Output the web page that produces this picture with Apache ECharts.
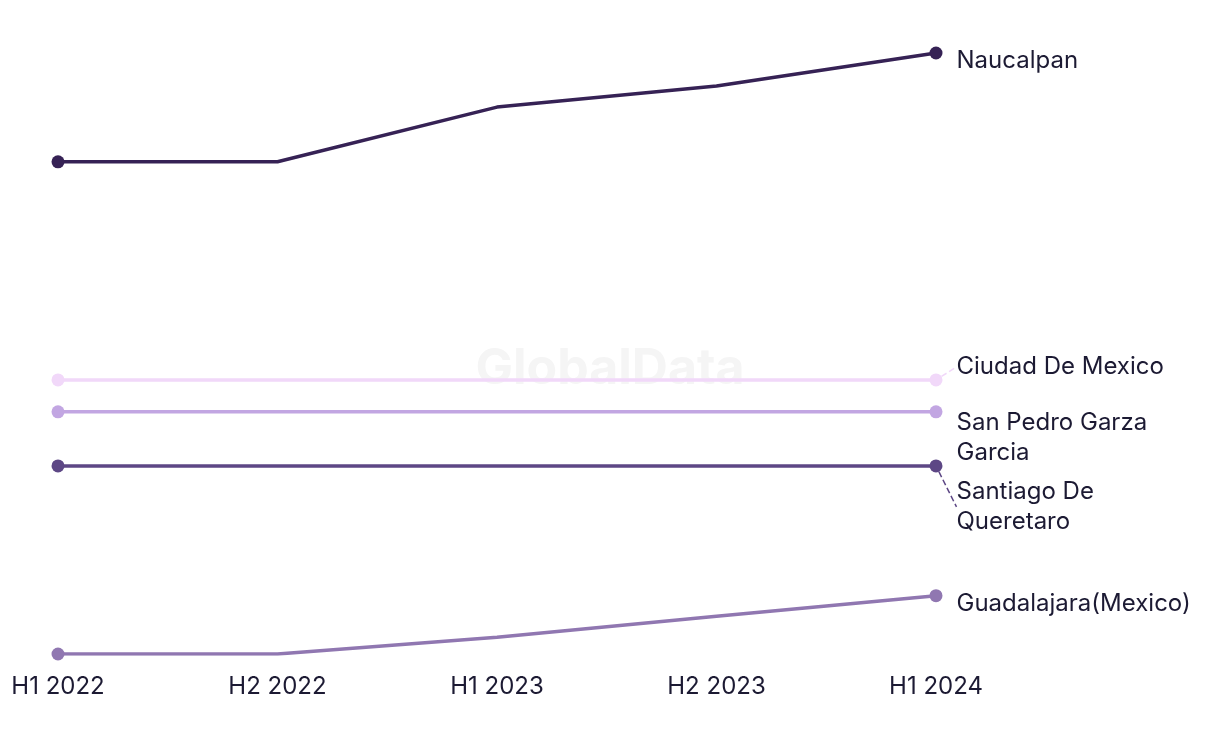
<!DOCTYPE html>
<html>
<head>
<meta charset="utf-8">
<script src="https://cdn.jsdelivr.net/npm/echarts@6/dist/echarts.min.js"></script>
<style>
  html, body { margin: 0; padding: 0; background: #fff; }
  #chart { width: 1220px; height: 744px; }
</style>
</head>
<body>
<div id="chart"></div>
<script>
// periods on the x axis
const periods = ['H1 2022', 'H2 2022', 'H1 2023', 'H2 2023', 'H1 2024'];

// values per city (no y axis shown)
const naucalpan = [81.9, 81.9, 91.0, 94.5, 100];
const ciudadDeMexico = [45.6, 45.6, 45.6, 45.6, 45.6];
const sanPedroGarzaGarcia = [40.3, 40.3, 40.3, 40.3, 40.3];
const santiagoDeQueretaro = [31.3, 31.3, 31.3, 31.3, 31.3];
const guadalajara = [0, 0, 2.8, 6.3, 9.7];

// label nudges (dy) keep the end labels from overlapping, like the original
const cities = [
  { name: 'Naucalpan', label: 'Naucalpan', data: naucalpan, color: '#362255', dy: 8, leader: false },
  { name: 'Ciudad De Mexico', label: 'Ciudad De Mexico', data: ciudadDeMexico, color: '#f1d8f9', dy: -13, leader: true },
  { name: 'San Pedro Garza Garcia', label: 'San Pedro Garza\nGarcia', data: sanPedroGarzaGarcia, color: '#c2a6e2', dy: 26, leader: false },
  { name: 'Santiago De Queretaro', label: 'Santiago De\nQueretaro', data: santiagoDeQueretaro, color: '#5d4785', dy: 41, leader: true },
  { name: 'Guadalajara(Mexico)', label: 'Guadalajara(Mexico)', data: guadalajara, color: '#9077b1', dy: 8, leader: false }
];

const textColor = '#1c1a33';
const fontFamily = 'Inter, "Noto Sans", sans-serif';

let chart = echarts.init(document.getElementById('chart'));

let series = cities.map(function (c) {
  let last = c.data.length - 1;
  return {
    name: c.name,
    type: 'line',
    data: c.data.map(function (v, i) {
      if (i === last) return { value: v, label: { show: true } };
      return { value: v, label: { show: false } };
    }),
    symbol: 'circle',
    symbolSize: function (val, params) {
      return (params.dataIndex === 0 || params.dataIndex === last) ? 13 : 0;
    },
    showAllSymbol: true,
    lineStyle: { width: 3.5, color: c.color },
    itemStyle: { color: c.color },
    label: {
      show: false,
      position: 'right',
      distance: 14,
      color: textColor,
      fontSize: 24,
      lineHeight: 30,
      fontFamily: fontFamily,
      formatter: c.label
    },
    labelLine: {
      show: c.leader,
      lineStyle: { color: c.color, type: 'dashed', width: 1.5 }
    },
    labelLayout: function (p) {
      return p.dataIndex === last ? { dy: c.dy } : {};
    },
    emphasis: { disabled: true }
  };
});

let option = {
  animation: false,
  backgroundColor: '#fff',
  graphic: [{
    type: 'text',
    left: 'center',
    top: 344,
    z: -10,
    style: {
      text: 'GlobalData',
      fontSize: 50,
      fontWeight: 'bold',
      fontFamily: fontFamily,
      fill: '#f5f5f5'
    }
  }],
  grid: { left: 58, right: 284, top: 53, bottom: 90, containLabel: false },
  xAxis: {
    type: 'category',
    data: periods,
    boundaryGap: false,
    axisLine: { show: false },
    axisTick: { show: false },
    axisLabel: {
      color: textColor,
      fontSize: 24,
      fontFamily: fontFamily,
      margin: 21
    }
  },
  yAxis: {
    type: 'value',
    min: 0,
    max: 100,
    show: false,
    splitLine: { show: false }
  },
  series: series
};

chart.setOption(option);
window.addEventListener('resize', function () { chart.resize(); });
</script>
</body>
</html>
